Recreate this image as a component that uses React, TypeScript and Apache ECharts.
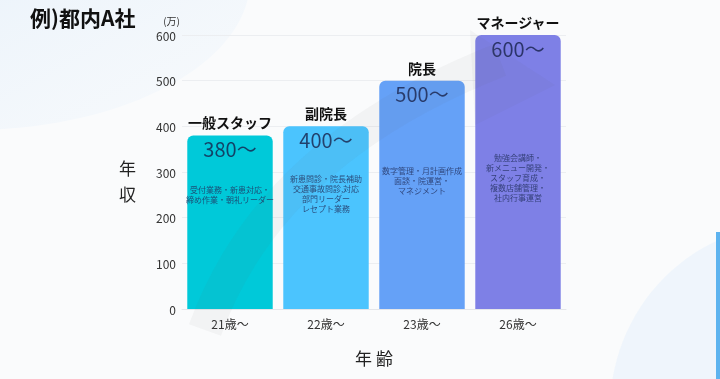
import React, { useEffect, useRef } from "react";
import * as echarts from "echarts";

const categories = ["21歳〜", "22歳〜", "23歳〜", "26歳〜"];
const salaries = [380, 400, 500, 600];
const roles = ["一般スタッフ", "副院長", "院長", "マネージャー"];
const amountLabels = ["380〜", "400〜", "500〜", "600〜"];
const duties = [
  "受付業務・新患対応・\n締め作業・朝礼リーダー",
  "新患問診・院長補助\n交通事故問診,対応\n部門リーダー\nレセプト業務",
  "数字管理・月計画作成\n面談・院運営・\nマネジメント",
  "勉強会講師・\n新メニュー開発・\nスタッフ育成・\n複数店舗管理・\n社内行事運営",
];
const dutyAnchors = [250, 254, 282, 287];
const barColors = ["#00C9D9", "#4BC4FE", "#65A1F7", "#7E80E6"];
const yTicks = { min: 0, max: 600, interval: 100 };

const FONT = "'Noto Sans CJK JP', 'Noto Sans', sans-serif";

export default function App() {
  const ref = useRef<HTMLDivElement>(null);
  useEffect(() => {
    if (!ref.current) return;
    const chart = echarts.init(ref.current, null, { renderer: "svg" });
    chart.setOption({
      animation: false,
      textStyle: { fontFamily: FONT },
      graphic: [
        { type: "rect", z: -10, shape: { x: 0, y: 0, width: 720, height: 379 }, style: { fill: "#fafbfc" } },
        {
          type: "ellipse", z: -9,
          shape: { cx: -30, cy: -20, rx: 280, ry: 150 },
          style: {
            fill: new echarts.graphic.LinearGradient(0, 0, 1, 1, [
              { offset: 0, color: "rgba(214,232,248,0.95)" },
              { offset: 1, color: "rgba(240,246,252,0.3)" },
            ]),
          },
        },
        {
          type: "ellipse", z: -9,
          shape: { cx: 790, cy: 410, rx: 180, ry: 185 },
          style: { fill: "rgba(232,242,251,0.6)" },
        },
        { type: "rect", z: -8, shape: { x: 716, y: 232, width: 4, height: 147 }, style: { fill: "#5db3ef" } },
        {
          type: "bezierCurve", z: 10,
          shape: { x1: 205, y1: 330, cpx1: 270, cpy1: 150, x2: 500, y2: 60 },
          style: { stroke: "rgba(90,90,90,0.05)", lineWidth: 34, fill: "none" },
        },
        {
          type: "polygon", z: 10,
          shape: { points: [[470, 30], [555, 85], [475, 125]] },
          style: { fill: "rgba(90,90,90,0.05)" },
        },
        {
          type: "text", left: 30, top: 6,
          style: { text: "例)都内A社", font: `bold 21px ${FONT}`, fill: "#111" },
        },
        {
          type: "text", left: 119, top: 154,
          style: { text: "年\n収", font: `17px ${FONT}`, lineHeight: 26, fill: "#222" },
        },
      ],
      grid: { left: 182, right: 154, top: 35, bottom: 70 },
      xAxis: {
        type: "category",
        data: categories,
        name: "年 齢",
        nameLocation: "middle",
        nameGap: 40,
        nameTextStyle: { fontSize: 17, color: "#222", fontFamily: FONT },
        axisLine: { lineStyle: { color: "#e4e6ea" } },
        axisTick: { show: false },
        axisLabel: { fontSize: 12, color: "#333", margin: 8, fontFamily: FONT },
      },
      yAxis: {
        type: "value",
        min: yTicks.min,
        max: yTicks.max,
        interval: yTicks.interval,
        name: "(万)",
        nameLocation: "end",
        nameGap: 10,
        nameTextStyle: { fontSize: 10, color: "#333", align: "right", padding: [0, 2, 0, 0] },
        axisLine: { show: false },
        axisTick: { show: false },
        axisLabel: { fontSize: 12, color: "#333", margin: 6, fontFamily: FONT },
        splitLine: { lineStyle: { color: "#eceef1" } },
      },
      series: [
        {
          type: "bar",
          barCategoryGap: "11%",
          data: salaries.map((v, i) => ({ value: v, itemStyle: { color: barColors[i] } })),
          itemStyle: { borderRadius: [6, 6, 0, 0] },
          label: {
            show: true,
            position: "top",
            distance: 6,
            formatter: (p: any) => roles[p.dataIndex],
            fontSize: 14,
            fontWeight: "bold",
            color: "#111",
            fontFamily: FONT,
          },
        },
        {
          type: "scatter",
          symbolSize: 0,
          silent: true,
          z: 5,
          data: salaries,
          label: {
            show: true,
            position: "bottom",
            distance: 3,
            formatter: (p: any) => amountLabels[p.dataIndex],
            fontSize: 20,
            color: "#17204a",
            fontFamily: FONT,
          },
        },
        {
          type: "scatter",
          symbolSize: 0,
          silent: true,
          z: 5,
          data: dutyAnchors,
          label: {
            show: true,
            position: "inside",
            formatter: (p: any) => duties[p.dataIndex],
            fontSize: 8,
            lineHeight: 10,
            color: "#22305e",
            align: "center",
            fontFamily: FONT,
          },
        },
      ],
    });
    return () => chart.dispose();
  }, []);
  return (
    <div
      ref={ref}
      style={{ position: "fixed", left: 0, top: 0, width: 720, height: 379 }}
    />
  );
}
